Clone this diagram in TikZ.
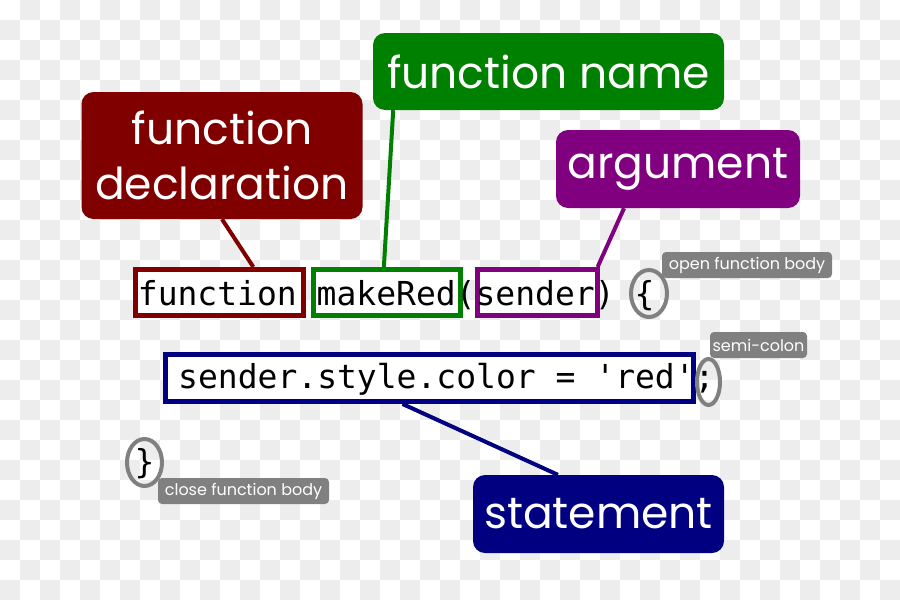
\documentclass[tikz,border=0pt]{standalone}
\usepackage{fontspec}
\setmonofont{DejaVu Sans Mono}
\newfontfamily\gothic{Poppins}
\usetikzlibrary{shapes.geometric}
\definecolor{declred}{HTML}{800000}
\definecolor{namegreen}{HTML}{008000}
\definecolor{argpurple}{HTML}{800080}
\definecolor{stmtblue}{HTML}{000080}
\definecolor{tagray}{HTML}{808080}
\definecolor{checker}{HTML}{EDEDED}

\begin{document}
\begin{tikzpicture}[x=1pt,y=-1pt,
  lbl/.style={fill=#1,rounded corners=12pt,text=white,inner sep=0pt,align=center,
    font=\gothic\fontsize{44}{55}\selectfont},
  tag/.style={fill=tagray,rounded corners=4pt,text=white,inner sep=0pt,
    minimum height=26pt,font=\gothic\fontsize{16}{16}\selectfont},
  codebox/.style={draw=#1,line width=5pt,fill=white,inner sep=0pt,minimum height=46pt},
  ring/.style={draw=tagray,line width=4pt,ellipse,inner sep=0pt},
  link/.style={draw=#1,line width=4pt},
  code/.style={inner sep=0pt,anchor=base west,font=\ttfamily\fontsize{33}{33}\selectfont}]
\useasboundingbox (0,0) rectangle (900,600);
\foreach \i in {0,...,44}
  \foreach \j in {0,...,29}
    {\ifodd\numexpr\i+\j\relax \fill[checker] (20*\i,20*\j) rectangle ++(20,20);\fi}

\node[codebox=declred,minimum width=168pt] (funkw) at (219.5,292.5) {};
\node[codebox=namegreen,minimum width=147pt] (fname) at (387,292.5) {};
\node[codebox=argpurple,minimum width=120pt] (farg) at (537.5,292.5) {};
\node[codebox=stmtblue,minimum width=528pt,minimum height=47pt] (fstmt) at (429.5,378) {};

\node[ring,minimum width=36pt,minimum height=47pt] (obrace) at (649,293.5) {};
\node[ring,minimum width=23pt,minimum height=46pt] (semi) at (708.5,382) {};
\node[ring,minimum width=35pt,minimum height=47pt] (cbrace) at (144.5,462.5) {};

\node[code] (line1) at (137.7,305) {function makeRed(sender) \{};
\node[code] (line2) at (178,388) {sender.style.color = 'red';};
\node[code] (line3) at (134.5,473) {\}};

\node[lbl=declred,minimum width=281pt,minimum height=127pt] (decllbl) at (222,155.5) {function\\declaration};
\node[lbl=namegreen,minimum width=351pt,minimum height=77pt] (namelbl) at (548.5,71.5) {function name};
\node[lbl=argpurple,minimum width=244pt,minimum height=78pt] (arglbl) at (678,169) {argument};
\node[lbl=stmtblue,minimum width=251pt,minimum height=78pt] (stmtlbl) at (598.5,514) {statement};

\node[tag,minimum width=170pt] (opentag) at (747,265) {open function body};
\node[tag,minimum width=97pt] (semitag) at (758.5,345) {semi-colon};
\node[tag,minimum width=171pt] (closetag) at (243.5,491) {close function body};

\draw[link=declred] (decllbl.south) -- (funkw.37);
\draw[link=namegreen] (namelbl.194) -- (fname.97);
\draw[link=argpurple] (arglbl.216) -- (farg.23);
\draw[link=stmtblue] (fstmt.224) -- (stmtlbl.136);
\end{tikzpicture}
\end{document}
